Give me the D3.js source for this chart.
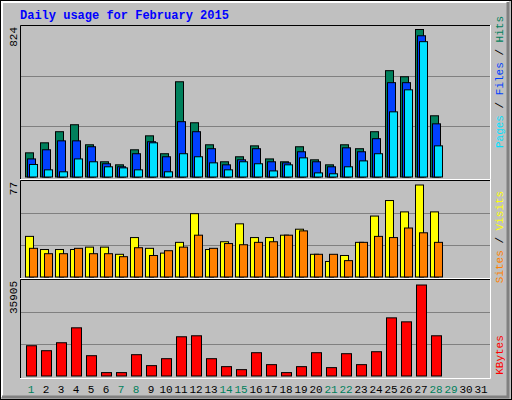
<!DOCTYPE html>
<html>
<head>
<meta charset="utf-8">
<script src="https://cdn.jsdelivr.net/npm/d3@7"></script>
<style>
  body { margin: 0; background: #fff; }
  text { font-family: "Liberation Mono", "DejaVu Sans Mono", monospace; }
</style>
</head>
<body>
<svg id="chart" width="512" height="400"></svg>
<script>
// values (Feb 2015, days 1..28, 29-31 empty)
const days = d3.range(1, 32);
const weekendDays = [1, 7, 8, 14, 15, 21, 22, 28, 29];
const hits   = [135,191,253,292,180,85,68,152,230,130,532,303,180,85,113,174,101,85,169,96,68,180,158,253,594,560,824,342];
const files  = [101,152,202,202,169,74,57,130,197,113,309,253,158,68,96,158,85,79,141,85,57,163,141,214,527,527,789,297];
const pages  = [70,40,29,101,85,57,51,40,191,29,130,113,79,40,85,74,34,68,107,23,18,57,90,130,364,487,756,174];
const visits = [34,23,23,23,25,25,19,33,24,20,29,53,23,29.5,44.5,33,33,35,40,19,13,18,29,51,64,54.5,77,54.5];
const sites  = [24,19.5,19.5,24,19.5,19.5,17,24.5,18,22,25,35,24,28,27,29,29.5,35,38.6,19,19,13.7,29,34,33,41,37,29];
const kbytes = [11940,9980,13120,19010,8010,1340,1340,8410,4090,6830,15480,15870,6830,3690,2510,9190,4480,1340,3690,9190,3300,8800,4480,9580,22940,21370,35905,15870];

const COLORS = { hits: '#00805c', files: '#0040ff', pages: '#00e0ff', visits: '#ffff00', sites: '#ff8000', kbytes: '#ff0000' };
const PLOT_LEFT = 20, PLOT_RIGHT = 491;

const svg = d3.select('#chart');

// outer frame with bevel
svg.append('rect').attr('x', 0).attr('y', 0).attr('width', 512).attr('height', 400).attr('fill', '#c0c0c0');
svg.append('rect').attr('x', 0.5).attr('y', 0.5).attr('width', 511).attr('height', 399).attr('fill', 'none').attr('stroke', '#000');
svg.append('path').attr('d', 'M2,397V2H509').attr('fill', 'none').attr('stroke', '#fff').attr('stroke-width', 2);
svg.append('path').attr('d', 'M2,397H508V2').attr('fill', 'none').attr('stroke', '#808080').attr('stroke-width', 3);

svg.append('text').attr('x', 20).attr('y', 19)
    .attr('font-size', 12).attr('font-weight', 'bold').attr('fill', '#0000ff')
    .text('Daily usage for February 2015');

const x = d3.scaleLinear().domain([1, 2]).range([25, 40]);

function panel(top, bottom, base, maxY, maxVal, label) {
    svg.append('rect').attr('x', PLOT_LEFT).attr('y', top).attr('width', PLOT_RIGHT - PLOT_LEFT).attr('height', bottom - top)
        .attr('fill', '#c0c0c0');
    const y = d3.scaleLinear().domain([0, maxVal]).range([base, maxY]);
    // webalizer grid: thirds of the panel
    const h = base - maxY;
    [1 / 3, 2 / 3].forEach(f => {
        svg.append('line').attr('x1', PLOT_LEFT + 1).attr('x2', PLOT_RIGHT - 1)
            .attr('y1', Math.round(base - (h + 4) * f) + 0.5).attr('y2', Math.round(base - (h + 4) * f) + 0.5)
            .attr('stroke', '#808080').attr('stroke-width', 1);
    });
    svg.append('path').attr('d', `M${PLOT_LEFT + 0.5},${bottom}V${top + 0.5}H${PLOT_RIGHT}`).attr('fill', 'none').attr('stroke', '#000');
    svg.append('path').attr('d', `M${PLOT_LEFT},${bottom - 0.5}H${PLOT_RIGHT - 0.5}V${top}`).attr('fill', 'none').attr('stroke', '#fff');
    svg.append('text').attr('transform', `translate(17,${top + 2}) rotate(-90)`)
        .attr('text-anchor', 'end').attr('font-size', 11).attr('fill', '#000').text(label);
    return y;
}

function bars(y, values, offset, width, color) {
    svg.append('g').selectAll('rect').data(values).enter().append('rect')
        .attr('x', (d, i) => x(i + 1) + offset + 0.5)
        .attr('y', d => y(d) + 0.5)
        .attr('width', width)
        .attr('height', d => y(0) - y(d))
        .attr('fill', color).attr('stroke', '#000');
}

function sideLabel(yMid, parts) {
    const t = svg.append('text').attr('transform', `translate(503,${yMid}) rotate(-90)`)
        .attr('text-anchor', 'middle').attr('font-size', 11);
    parts.forEach(p => t.append('tspan').attr('fill', p[1]).text(p[0]));
}

const yTop = panel(25, 180, 176.5, 29, 824, '824');
bars(yTop, hits, 0, 8, COLORS.hits);
bars(yTop, files, 2, 8, COLORS.files);
bars(yTop, pages, 4, 8, COLORS.pages);
sideLabel(82, [['Pages', COLORS.pages], [' / ', '#000'], ['Files', COLORS.files], [' / ', '#000'], ['Hits', COLORS.hits]]);

const yMid = panel(180, 279, 276.5, 184.5, 77, '77');
bars(yMid, visits, 0, 8, COLORS.visits);
bars(yMid, sites, 4, 8, COLORS.sites);
sideLabel(237, [['Sites', COLORS.sites], [' / ', '#000'], ['Visits', COLORS.visits]]);

const yBot = panel(279, 379, 375.5, 284.5, 35905, '35905');
bars(yBot, kbytes, 1, 10, COLORS.kbytes);
sideLabel(355, [['KBytes', COLORS.kbytes]]);

svg.append('g').selectAll('text').data(days).enter().append('text')
    .attr('x', d => x(d) + 6).attr('y', 393)
    .attr('text-anchor', 'middle').attr('font-size', 11)
    .attr('fill', d => weekendDays.includes(d) ? '#00805c' : '#000')
    .text(d => d);
</script>
</body>
</html>
